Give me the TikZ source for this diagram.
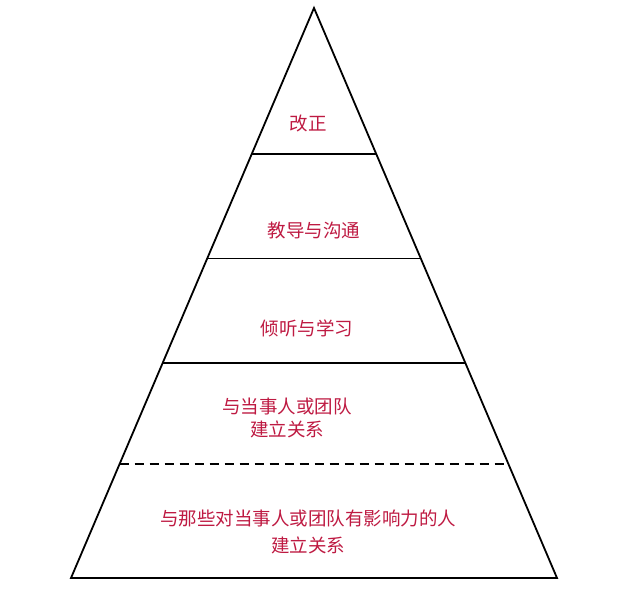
\documentclass[tikz,border=0pt]{standalone}
\usepackage{fontspec}
\setmainfont{Noto Sans CJK SC}
\usepackage{xcolor}
\definecolor{cramoisi}{HTML}{BE1A42}
\usetikzlibrary{positioning,calc}

\begin{document}
\begin{tikzpicture}[x=1pt,y=1pt,
  niveau/.style={text=cramoisi,font=\fontsize{18.5}{24}\selectfont,align=center,inner sep=0pt},
  bord/.style={black,line width=1.8pt},
  sep/.style={black,line width=1.3pt},
  pointille/.style={black,line width=1.3pt,dash pattern=on 9pt off 6pt}
]
\useasboundingbox (0,0) rectangle (628,591);
% sommets
\coordinate (haut) at (314,583);
\coordinate (bg) at (71,13);
\coordinate (bd) at (557,13);
% bords des niveaux
\coordinate (g1) at ($(haut)!0.256!(bg)$);
\coordinate (d1) at ($(haut)!0.256!(bd)$);
\coordinate (g2) at ($(haut)!0.440!(bg)$);
\coordinate (d2) at ($(haut)!0.440!(bd)$);
\coordinate (g3) at ($(haut)!0.623!(bg)$);
\coordinate (d3) at ($(haut)!0.623!(bd)$);
\coordinate (g4) at ($(haut)!0.800!(bg)$);
\coordinate (d4) at ($(haut)!0.800!(bd)$);
% pyramide
\draw[bord] (bg) -- (haut) -- (bd) -- cycle;
\draw[sep] (g1) -- (d1);
\draw[sep] (g2) -- (d2);
\draw[sep] (g3) -- (d3);
\draw[pointille] (g4) -- (d4);
% textes
\node[niveau] (n1) at (308,467) {改正};
\node[niveau] (n2) at (314,360) {教导与沟通};
\node[niveau] (n3) at (307,263) {倾听与学习};
\node[niveau] (n4) at (287,173) {与当事人或团队\\[-1pt]建立关系};
\node[niveau] (n5) at (308,59) {与那些对当事人或团队有影响力的人\\[3pt]建立关系};
\end{tikzpicture}
\end{document}
